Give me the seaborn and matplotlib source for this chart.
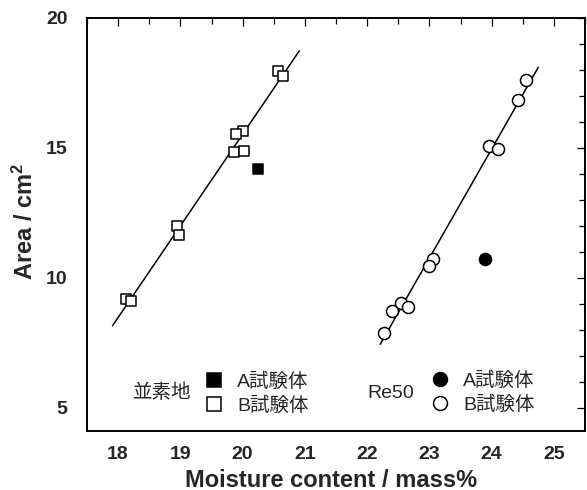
import numpy as np
import pandas as pd
import matplotlib
matplotlib.use("Agg")
import matplotlib.pyplot as plt
import seaborn as sns
from matplotlib.ticker import MultipleLocator
from matplotlib.lines import Line2D

# ---- data ----
# 並素地 (square markers)
plain_A_x = [20.25]
plain_A_y = [14.20]
plain_B_x = [20.57, 20.65, 20.00, 19.89, 19.86, 20.03, 18.95, 18.98, 18.13, 18.21]
plain_B_y = [17.95, 17.77, 15.65, 15.54, 14.85, 14.88, 12.00, 11.64, 9.18, 9.10]
plain_line_x = [17.91, 20.91]

# Re50 (circle markers)
re50_A_x = [23.89]
re50_A_y = [10.73]
re50_B_x = [24.56, 24.43, 23.96, 24.11, 23.06, 23.00, 22.54, 22.66, 22.40, 22.27]
re50_B_y = [17.60, 16.86, 15.08, 14.95, 10.72, 10.44, 9.01, 8.86, 8.72, 7.87]
re50_line_x = [22.21, 24.75]

x_ticks = [18, 19, 20, 21, 22, 23, 24, 25]
y_ticks = [5, 10, 15, 20]

group_labels = ["並素地", "Re50"]
series_labels = ["A試験体", "B試験体"]
x_label = "Moisture content / mass%"
y_label = "Area / cm$^2$"

# ---- style ----
sns.set_style("white")
plt.rcParams["font.family"] = ["Liberation Sans", "Noto Sans CJK JP", "DejaVu Sans"]
plt.rcParams["mathtext.default"] = "regular"
plt.rcParams["mathtext.fontset"] = "custom"
plt.rcParams["mathtext.rm"] = "Liberation Sans:bold"
plt.rcParams["mathtext.bf"] = "Liberation Sans:bold"

fig = plt.figure(figsize=(5.87, 4.90), dpi=100)
ax = fig.add_axes([87 / 587, 1 - 431 / 490, 498 / 587, 413 / 490])

# regression lines
for bx, by, lx in [(plain_B_x, plain_B_y, plain_line_x), (re50_B_x, re50_B_y, re50_line_x)]:
    coef = np.polyfit(bx, by, 1)
    lx = np.array(lx)
    sns.lineplot(x=lx, y=np.polyval(coef, lx), color="black", lw=1.1, ax=ax, zorder=2)

sq_s = 62
ci_s = 75
ew = 1.1
sns.scatterplot(x=plain_B_x, y=plain_B_y, marker="s", s=sq_s, facecolor="white",
                edgecolor="black", linewidth=ew, ax=ax, zorder=3)
sns.scatterplot(x=plain_A_x, y=plain_A_y, marker="s", s=sq_s, color="black",
                edgecolor="black", linewidth=ew, ax=ax, zorder=3)
sns.scatterplot(x=re50_B_x, y=re50_B_y, marker="o", s=ci_s, facecolor="white",
                edgecolor="black", linewidth=ew, ax=ax, zorder=3)
sns.scatterplot(x=re50_A_x, y=re50_A_y, marker="o", s=ci_s, color="black",
                edgecolor="black", linewidth=ew, ax=ax, zorder=3)

ax.set_xlim(17.5, 25.5)
ax.set_ylim(4.1, 20)
ax.set_xticks(x_ticks)
ax.set_yticks(y_ticks)
ax.xaxis.set_minor_locator(MultipleLocator(0.5))
ax.yaxis.set_minor_locator(MultipleLocator(1))
ax.tick_params(which="both", direction="in", top=True, right=True, width=0.9, color="black")
ax.tick_params(which="major", length=6)
ax.tick_params(which="minor", length=4)
ax.tick_params(axis="y", which="major", pad=14)
ax.tick_params(axis="x", which="major", pad=11)
for lab in ax.get_xticklabels() + ax.get_yticklabels():
    lab.set_fontweight("bold")
    lab.set_fontsize(14)
for sp in ax.spines.values():
    sp.set_visible(True)
    sp.set_color("black")
    sp.set_linewidth(1.4)

ax.set_xlabel(x_label, fontsize=17, fontweight="bold")
ax.set_ylabel(y_label, fontsize=17, fontweight="bold")
ax.xaxis.set_label_coords((331 - 87) / 498, -(468.5 - 431) / 413)
ax.yaxis.set_label_coords((38 - 87) / 498, 1 - (221 - 18) / 413)

# legends
leg_fs = 14
h1 = [Line2D([], [], ls="none", marker="s", markersize=9.5, markerfacecolor="black",
             markeredgecolor="black", markeredgewidth=ew),
      Line2D([], [], ls="none", marker="s", markersize=9.5, markerfacecolor="white",
             markeredgecolor="black", markeredgewidth=ew)]
h2 = [Line2D([], [], ls="none", marker="o", markersize=10, markerfacecolor="black",
             markeredgecolor="black", markeredgewidth=ew),
      Line2D([], [], ls="none", marker="o", markersize=10, markerfacecolor="white",
             markeredgecolor="black", markeredgewidth=ew)]
leg1 = ax.legend(h1, series_labels, loc="center left", frameon=False, fontsize=leg_fs,
                 handlelength=1.0, handletextpad=0.7, labelspacing=0.3, borderpad=0,
                 borderaxespad=0, bbox_to_anchor=((204 - 87) / 498, 1 - (393.5 - 18) / 413))
ax.add_artist(leg1)
leg2 = ax.legend(h2, series_labels, loc="center left", frameon=False, fontsize=leg_fs,
                 handlelength=1.0, handletextpad=0.69, labelspacing=0.3, borderpad=0,
                 borderaxespad=0, bbox_to_anchor=((430.3 - 87) / 498, 1 - (393 - 18) / 413))
ax.text((162.7 - 87) / 498, 1 - (393 - 18) / 413, group_labels[0], transform=ax.transAxes,
        ha="center", va="center", fontsize=leg_fs)
ax.text((390.5 - 87) / 498, 1 - (393 - 18) / 413, group_labels[1], transform=ax.transAxes,
        ha="center", va="center", fontsize=leg_fs)

fig.savefig("out.png", dpi=100)
